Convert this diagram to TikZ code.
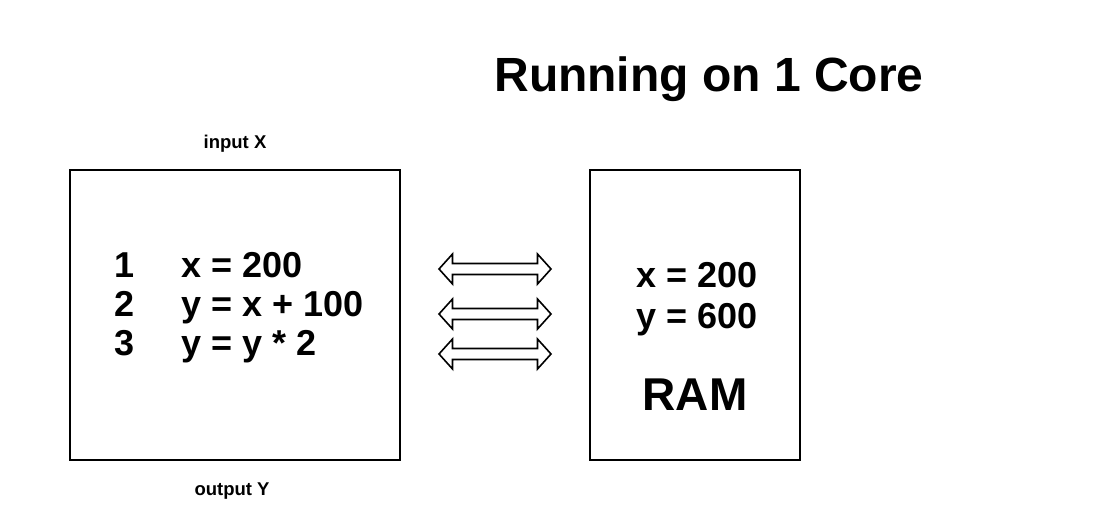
\documentclass[tikz,border=0pt]{standalone}
\usepackage{fontspec}
\setmainfont{Liberation Sans}
\usetikzlibrary{shapes.arrows}

\begin{document}
\begin{tikzpicture}[x = 1pt, y = -1pt,
        box/.style = {draw, line width = 2pt, inner sep = 0pt},
        bus/.style = {draw, line width = 1.6pt, double arrow, inner sep = 0pt,
            text height = 4.7pt, text depth = 4.7pt, minimum height = 112pt,
            double arrow head extend = 9.5pt, double arrow tip angle = 96},
        lbl/.style = {inner sep = 0pt, font = \fontsize{18.5}{22}\selectfont\bfseries},
        big/.style = {inner sep = 0pt, font = \fontsize{36}{43}\selectfont\bfseries}]
            \useasboundingbox (0,0) rectangle (1108,522);
            \node (title) [inner sep = 0pt, anchor = base,
                font = \fontsize{48}{58}\selectfont\bfseries] at (709,91) {Running on 1 Core};

            % program box
            \node (prog) [box, minimum width = 330pt, minimum height = 290pt] at (235,315) {};
            \node (inx) [lbl, anchor = base] at (235,148) {input X};
            \node (outy) [lbl, anchor = base] at (232,495) {output Y};
            \matrix (code) [matrix anchor = north west, inner sep = 0pt, column sep = 47pt,
                nodes = {big, anchor = base west, text height = 26pt, text depth = 13pt}]
                at (114,251) {
                \node {1}; & \node {x = 200}; \\
                \node {2}; & \node {y = x + 100}; \\
                \node {3}; & \node {y = y * 2}; \\
            };

            % memory box
            \node (ram) [box, minimum width = 210pt, minimum height = 290pt] at (695,315) {};
            \node (ramx) [big, anchor = base west] at (636,287) {x = 200};
            \node (ramy) [big, anchor = base west] at (636,328) {y = 600};
            \node (ramlbl) [inner sep = 0pt, anchor = base,
                font = \fontsize{46}{55}\selectfont\bfseries] at (695,410) {RAM};

            % traffic between the two
            \foreach \i/\y in {1/269, 2/314, 3/354}
                \node (bus\i) [bus] at (495,\y) {};
        \end{tikzpicture}
\end{document}
